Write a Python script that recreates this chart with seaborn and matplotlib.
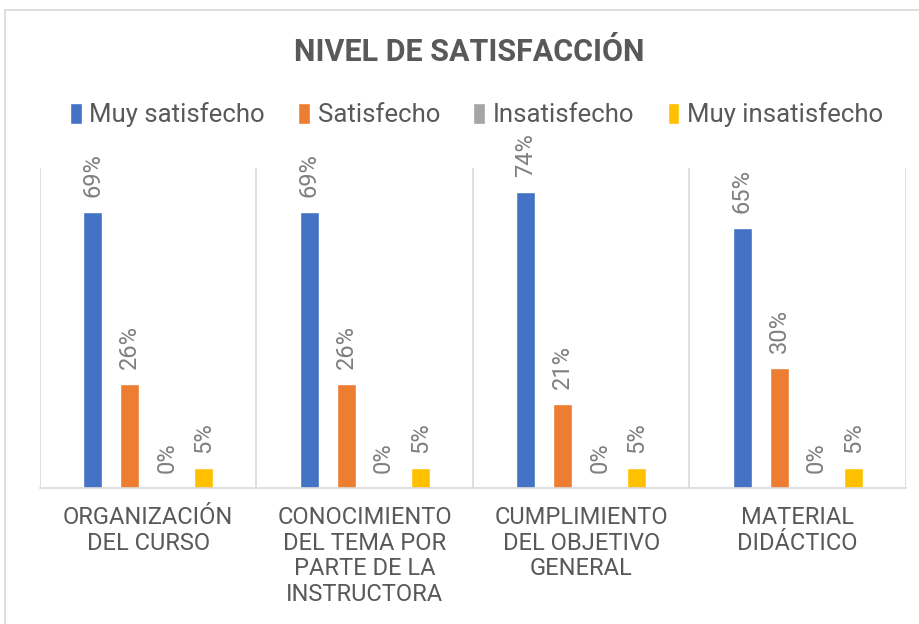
import pandas as pd
import matplotlib.pyplot as plt
import seaborn as sns
from matplotlib.patches import Rectangle

# Datos
categorias = ["ORGANIZACIÓN\nDEL CURSO",
              "CONOCIMIENTO\nDEL TEMA POR\nPARTE DE LA\nINSTRUCTORA",
              "CUMPLIMIENTO\nDEL OBJETIVO\nGENERAL",
              "MATERIAL\nDIDÁCTICO"]
niveles = ["Muy satisfecho", "Satisfecho", "Insatisfecho", "Muy insatisfecho"]
muy_satisfecho = [0.69, 0.69, 0.74, 0.65]
satisfecho = [0.26, 0.26, 0.21, 0.30]
insatisfecho = [0.0, 0.0, 0.0, 0.0]
muy_insatisfecho = [0.05, 0.05, 0.05, 0.05]
colores = ["#4472C4", "#ED7D31", "#A5A5A5", "#FFC000"]

valores = [muy_satisfecho, satisfecho, insatisfecho, muy_insatisfecho]
filas = []
for nivel, serie in zip(niveles, valores):
    for cat, v in zip(categorias, serie):
        filas.append({"Categoria": cat, "Nivel": nivel, "Valor": v})
df = pd.DataFrame(filas)

sns.set_theme(style="white")
plt.rcParams['font.family'] = ['Roboto', 'DejaVu Sans']

fig = plt.figure(figsize=(9.2, 6.24), dpi=100)
ax = fig.add_axes([40 / 920, 1 - 488 / 624, 866 / 920, 320 / 624])

# marco del gráfico
fig.patches.append(Rectangle((5 / 920, -0.1), 1.0, 1 - 10 / 624 + 0.1,
                             transform=fig.transFigure, fill=False,
                             edgecolor="#D9D9D9", linewidth=1.2))

sns.barplot(data=df, x="Categoria", y="Valor", hue="Nivel", palette=colores,
            width=0.684, gap=0.485, ax=ax, legend=True, saturation=1)

for cont in ax.containers:
    ax.bar_label(cont, labels=[f"{v:.0%}" for v in cont.datavalues],
                 rotation=90, padding=11, fontsize=17, color="#7F7F7F")

ax.set_ylim(0, 0.8)
ax.set_xlim(-0.5, 3.5)
ax.set_yticks([])
ax.set_xlabel("")
ax.set_ylabel("")
for s in ["top", "right", "left"]:
    ax.spines[s].set_visible(False)
ax.spines["bottom"].set_color("#D9D9D9")
ax.spines["bottom"].set_linewidth(1.2)
for x in [-0.5, 0.5, 1.5, 2.5, 3.5]:
    ax.axvline(x, color="#D9D9D9", linewidth=1.2, zorder=0)

ax.tick_params(axis="x", length=0, pad=13)
plt.setp(ax.get_xticklabels(), fontsize=17, color="#595959", linespacing=1.15,
         ha="center", va="top")

handles, labels = ax.get_legend_handles_labels()
ax.get_legend().remove()
fig.legend(handles, labels, loc="center", bbox_to_anchor=(0.518, 1 - 115 / 624),
           ncol=4, frameon=False, fontsize=18.5, labelcolor="#595959",
           handlelength=0.45, handleheight=0.9, handletextpad=0.3,
           columnspacing=1.3)

fig.text(0.51, 1 - 52 / 624, "NIVEL DE SATISFACCIÓN", ha="center", va="center",
         fontsize=22, fontweight="bold", color="#595959")

plt.savefig("out.png", dpi=100)
